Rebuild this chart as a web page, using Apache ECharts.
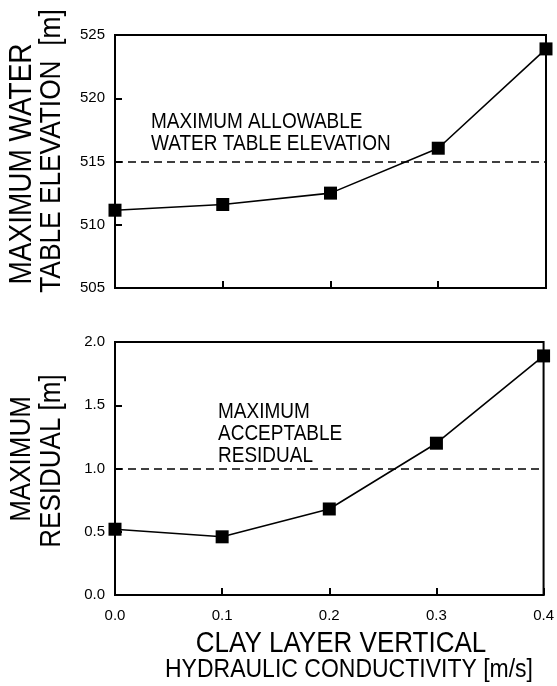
<!DOCTYPE html>
<html>
<head>
<meta charset="utf-8">
<style>
  html, body { margin: 0; padding: 0; background: #fff; }
  #chart { width: 557px; height: 686px; }
</style>
<script src="https://cdn.jsdelivr.net/npm/echarts@6/dist/echarts.min.js"></script>
</head>
<body>
<div id="chart"></div>
<script>
// Clay layer vertical hydraulic conductivity [m/s]
const conductivity = [0.0, 0.1, 0.2, 0.3, 0.4];
// Maximum water table elevation [m]
const maxWaterTable = [511.15, 511.6, 512.5, 516.05, 523.9];
// Maximum residual [m]
const maxResidual = [0.52, 0.46, 0.68, 1.20, 1.89];
// Limits drawn as dashed reference lines
const allowableElevation = 515;
const acceptableResidual = 1.0;
// Axis ticks
const elevationTicks = [505, 510, 515, 520, 525];
const residualTicks = [0.0, 0.5, 1.0, 1.5, 2.0];
const conductivityTicks = [0.0, 0.1, 0.2, 0.3, 0.4];

const FONT = '"Liberation Sans", Arial, Helvetica, sans-serif';
const INK = '#000';
// glyphs are drawn slightly taller than the regular face
const TALL = 1.13;

const chart = echarts.init(document.getElementById('chart'), null, { renderer: 'canvas' });

function pairs(xs, ys) { return xs.map((x, i) => [x, ys[i]]); }

function xAxisDef(gridIndex, showLabels) {
  return {
    type: 'value', gridIndex,
    min: conductivityTicks[0], max: conductivityTicks[conductivityTicks.length - 1],
    interval: conductivityTicks[1] - conductivityTicks[0],
    axisLine: { show: true, lineStyle: { color: INK, width: 2 } },
    axisTick: { show: true, inside: true, length: 7, lineStyle: { color: INK, width: 2 } },
    axisLabel: {
      show: showLabels, margin: 13, color: INK, fontFamily: FONT, fontSize: 15,
      formatter: v => v.toFixed(1)
    },
    splitLine: { show: false }
  };
}

function yAxisDef(gridIndex, ticks, digits) {
  return {
    type: 'value', gridIndex,
    min: ticks[0], max: ticks[ticks.length - 1], interval: ticks[1] - ticks[0],
    axisLine: { show: true, lineStyle: { color: INK, width: 2 } },
    axisTick: { show: true, inside: true, length: 7, lineStyle: { color: INK, width: 2 } },
    axisLabel: {
      show: true, margin: 10, color: INK, fontFamily: FONT, fontSize: 15,
      formatter: v => v.toFixed(digits)
    },
    splitLine: { show: false }
  };
}

function dataSeries(xi, yi, values, limit) {
  return {
    type: 'line', xAxisIndex: xi, yAxisIndex: yi,
    data: pairs(conductivity, values),
    symbol: 'rect', symbolSize: 13,
    itemStyle: { color: INK },
    lineStyle: { color: INK, width: 1.6 },
    clip: false, animation: false,
    markLine: {
      silent: true, symbol: ['none', 'none'], animation: false,
      label: { show: false },
      lineStyle: { color: INK, width: 1.5, type: [8, 5] },
      data: [{ yAxis: limit }]
    }
  };
}

// rotated axis title, centred on (x, y), reading bottom to top
function vText(text, x, y, size) {
  return {
    type: 'text', x, y, rotation: Math.PI / 2, scaleY: TALL,
    style: {
      text, fill: INK, font: size + 'px ' + FONT,
      textAlign: 'center', textVerticalAlign: 'middle'
    }
  };
}

function hText(text, x, y, size, align, lineGap) {
  return {
    type: 'text', x, y, scaleY: TALL,
    style: {
      text, fill: INK, font: size + 'px ' + FONT,
      textAlign: align, textVerticalAlign: 'top', lineHeight: lineGap / TALL
    }
  };
}

chart.setOption({
  backgroundColor: '#fff',
  animation: false,
  grid: [
    { left: 115, right: 11, top: 35, height: 253, show: true, borderColor: INK, borderWidth: 2, backgroundColor: 'transparent' },
    { left: 115, right: 11, top: 342, height: 253, show: true, borderColor: INK, borderWidth: 2, backgroundColor: 'transparent' }
  ],
  xAxis: [xAxisDef(0, false), xAxisDef(1, true)],
  yAxis: [yAxisDef(0, elevationTicks, 0), yAxisDef(1, residualTicks, 1)],
  series: [
    dataSeries(0, 0, maxWaterTable, allowableElevation),
    dataSeries(1, 1, maxResidual, acceptableResidual)
  ],
  graphic: [
    vText('MAXIMUM WATER', 22, 164, 28),
    vText('TABLE ELEVATION  [m]', 52, 151, 26.3),
    vText('MAXIMUM', 22, 459, 26),
    vText('RESIDUAL [m]', 52, 461, 26),
    hText('MAXIMUM ALLOWABLE\nWATER TABLE ELEVATION', 151, 111.5, 19, 'left', 22),
    hText('MAXIMUM\nACCEPTABLE\nRESIDUAL', 218, 401.5, 19, 'left', 22),
    hText('CLAY LAYER VERTICAL', 341, 630, 26, 'center', 28),
    hText('HYDRAULIC CONDUCTIVITY [m/s]', 349, 657, 23, 'center', 26)
  ]
});
</script>
</body>
</html>
